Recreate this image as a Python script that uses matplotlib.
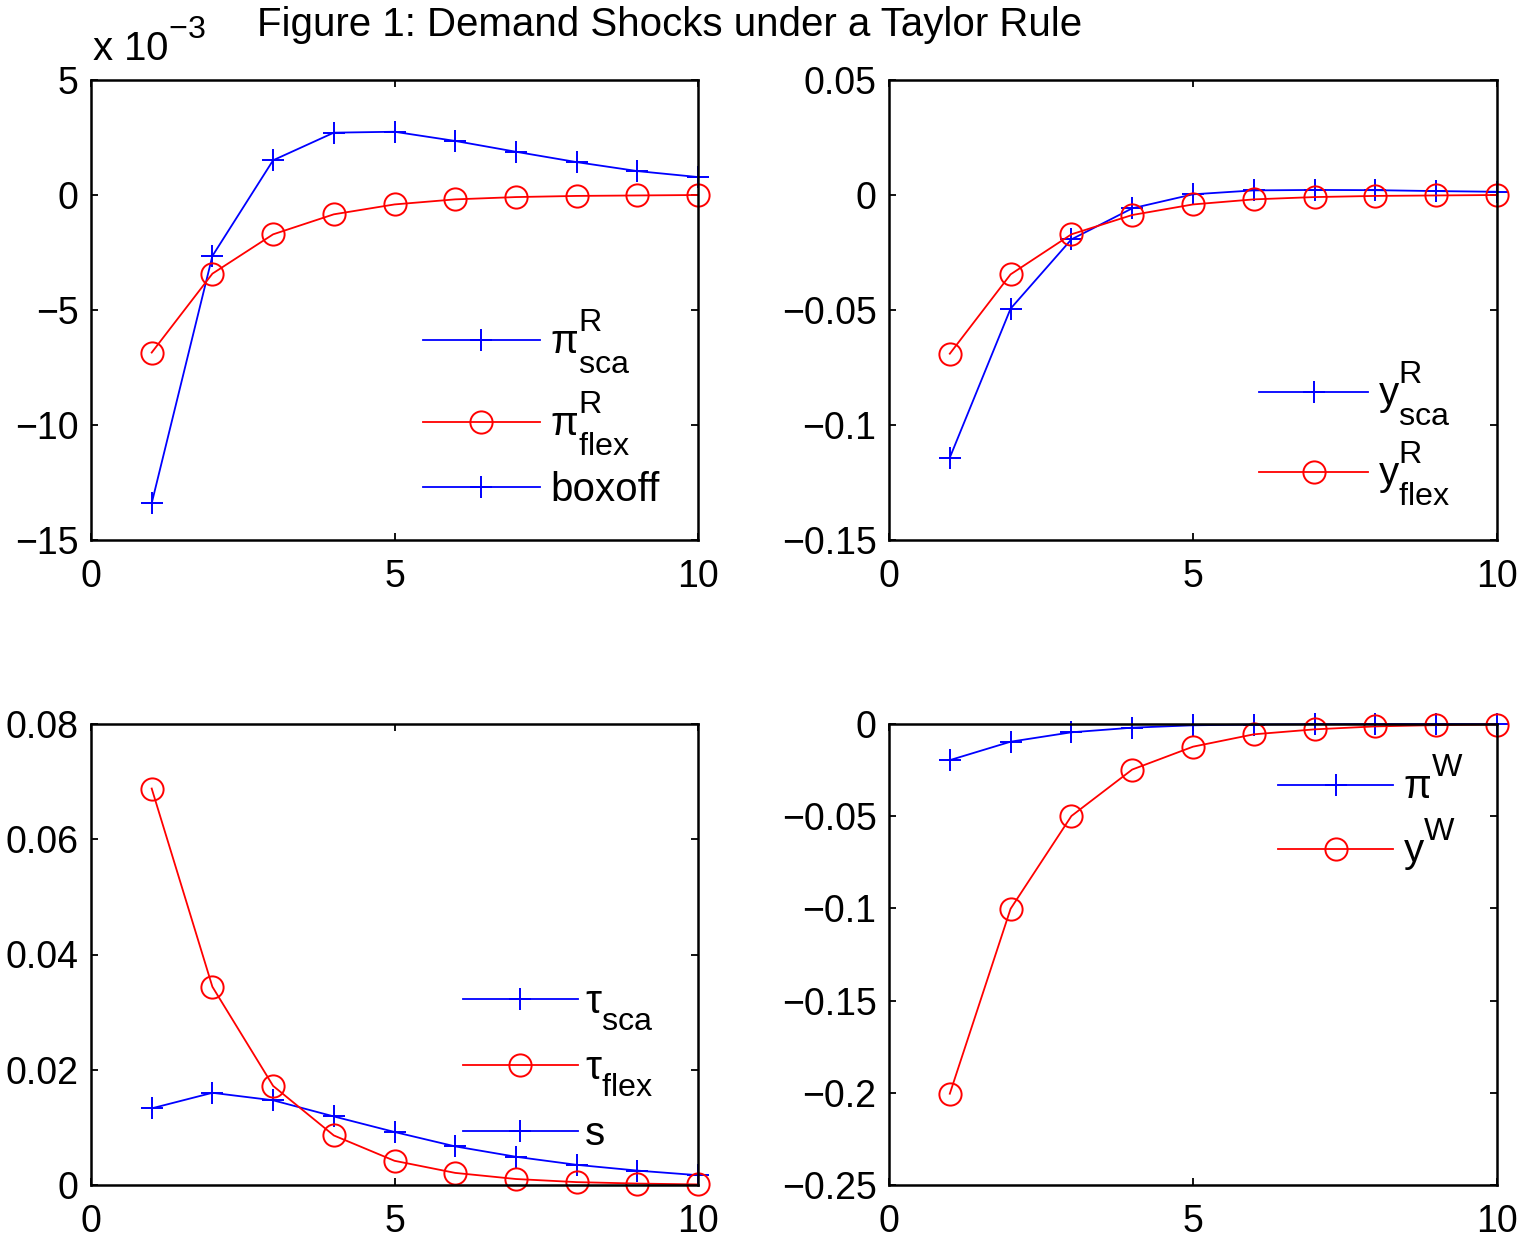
import numpy as np
import matplotlib
matplotlib.use("Agg")
import matplotlib.pyplot as plt
from matplotlib.ticker import FuncFormatter
import matplotlib._mathtext as _mt

# MATLAB draws sub/superscripts larger and further from the baseline than mathtext
_mt.SHRINK_FACTOR = 0.8
_mt.FontConstantsBase.sup1 = 1.0
_mt.FontConstantsBase.sub1 = 0.8
_mt.FontConstantsBase.sub2 = 0.9

plt.rcParams['font.family'] = ['Liberation Sans', 'DejaVu Sans']
plt.rcParams['mathtext.fontset'] = 'custom'
plt.rcParams['mathtext.rm'] = 'Liberation Sans'
plt.rcParams['mathtext.it'] = 'Liberation Sans'
plt.rcParams['mathtext.default'] = 'regular'

# periods
t = [1, 2, 3, 4, 5, 6, 7, 8, 9, 10]

# panel 1: inflation (x 1e-3)
pi_R_sca = [-13.4e-3, -2.65e-3, 1.51e-3, 2.71e-3, 2.75e-3, 2.35e-3, 1.88e-3, 1.43e-3, 1.04e-3, 0.78e-3]
pi_R_flex = [-6.85e-3, -3.42e-3, -1.71e-3, -0.84e-3, -0.41e-3, -0.19e-3, -0.09e-3, -0.04e-3, -0.02e-3, 0.0]

# panel 2: output
y_R_sca = [-0.1142, -0.0494, -0.0193, -0.0058, 0.0003, 0.0020, 0.0022, 0.0021, 0.0017, 0.0014]
y_R_flex = [-0.0690, -0.0345, -0.0171, -0.0087, -0.0041, -0.0019, -0.0009, -0.0004, -0.0002, 0.0]

# panel 3: tau
tau_sca = [0.0133, 0.0160, 0.0147, 0.0119, 0.0092, 0.0067, 0.0049, 0.0035, 0.0025, 0.0017]
tau_flex = [0.0688, 0.0344, 0.0172, 0.0086, 0.0042, 0.0021, 0.00104, 0.0005, 0.00025, 0.0001]

# panel 4: world
pi_W = [-0.0196, -0.0096, -0.0045, -0.0020, -0.0007, -0.0003, -0.0001, 0.0, 0.0, 0.0]
y_W = [-0.2005, -0.1002, -0.0499, -0.0247, -0.0123, -0.0056, -0.0029, -0.0013, -0.0006, -0.0003]

W, H = 1533, 1239
fig = plt.figure(figsize=(W / 100, H / 100), dpi=100)

FS = 27      # tick labels
LFS = 29     # legend / title
MINUS = '\u2212'


def fmt(scale):
    def f(v, pos):
        v = v * scale
        if abs(v) < 1e-12:
            return '0'
        return ('%g' % v).replace('-', MINUS)
    return FuncFormatter(f)


def make_axes(x0, x1, y0, y1):
    ax = fig.add_axes([x0 / W, 1 - y1 / H, (x1 - x0) / W, (y1 - y0) / H])
    for s in ax.spines.values():
        s.set_linewidth(1.8)
    ax.tick_params(direction='in', top=True, right=True, length=5, width=1.3,
                   labelsize=FS)
    ax.tick_params(axis='y', pad=9)
    ax.tick_params(axis='x', pad=14)
    ax.set_xlim(0, 10)
    ax.set_xticks([0, 5, 10])
    return ax


line_kw = dict(linewidth=1.3, markersize=16, markeredgewidth=1.4, clip_on=False)


def plot_pair(ax, a, b):
    l1, = ax.plot(t, a, color='blue', marker='+', **line_kw)
    l2, = ax.plot(t, b, color='red', marker='o', markerfacecolor='none', **line_kw)
    return l1, l2


leg_kw = dict(frameon=False, fontsize=LFS, borderpad=0, borderaxespad=0,
              handlelength=2.9, handletextpad=0.25, labelspacing=0.33)

# top-left
ax1 = make_axes(91, 698, 80, 540)
l1, l2 = plot_pair(ax1, pi_R_sca, pi_R_flex)
ax1.set_ylim(-15e-3, 5e-3)
ax1.set_yticks(np.arange(-15e-3, 5.1e-3, 5e-3))
ax1.yaxis.set_major_formatter(fmt(1e3))
ax1.legend([l1, l2, l1],
           [r'$\mathregular{π^{R}_{sca}}$', r'$\mathregular{π^{R}_{flex}}$', 'boxoff'],
           loc='lower left', bbox_to_anchor=(0.547, 0.067), **leg_kw)

# top-right
ax2 = make_axes(889, 1497, 80, 540)
l1, l2 = plot_pair(ax2, y_R_sca, y_R_flex)
ax2.set_ylim(-0.15, 0.05)
ax2.set_yticks(np.arange(-0.15, 0.051, 0.05))
ax2.yaxis.set_major_formatter(fmt(1))
ax2.legend([l1, l2],
           [r'$\mathregular{y^{R}_{sca}}$', r'$\mathregular{y^{R}_{flex}}$'],
           loc='lower left', bbox_to_anchor=(0.609, 0.07),
           **dict(leg_kw, handlelength=2.7, labelspacing=0.28))

# bottom-left
ax3 = make_axes(91, 698, 724, 1185)
l1, l2 = plot_pair(ax3, tau_sca, tau_flex)
ax3.set_ylim(0, 0.08)
ax3.set_yticks(np.arange(0, 0.081, 0.02))
ax3.yaxis.set_major_formatter(fmt(1))
ax3.legend([l1, l2, l1],
           [r'$\mathregular{τ_{sca}}$', r'$\mathregular{τ_{flex}}$', 's'],
           loc='lower left', bbox_to_anchor=(0.613, 0.069),
           **dict(leg_kw, handlelength=2.85, handletextpad=0.18, labelspacing=0.41))

# bottom-right
ax4 = make_axes(889, 1497, 724, 1185)
l1, l2 = plot_pair(ax4, pi_W, y_W)
ax4.set_ylim(-0.25, 0)
ax4.set_yticks(np.arange(-0.25, 0.001, 0.05))
ax4.yaxis.set_major_formatter(fmt(1))
ax4.legend([l1, l2],
           [r'$\mathregular{π^{W}}$', r'$\mathregular{y^{W}}$'],
           loc='upper left', bbox_to_anchor=(0.64, 0.925),
           **dict(leg_kw, handlelength=2.85, labelspacing=0.23))

fig.text(92 / W, 1 - 61 / H, r'x 10$^{\mathregular{-3}}$', fontsize=LFS,
         ha='left', va='baseline')
fig.text(670 / W, 1 - 36 / H, 'Figure 1: Demand Shocks under a Taylor Rule',
         fontsize=LFS, ha='center', va='baseline')

fig.savefig('out.png', dpi=100)
